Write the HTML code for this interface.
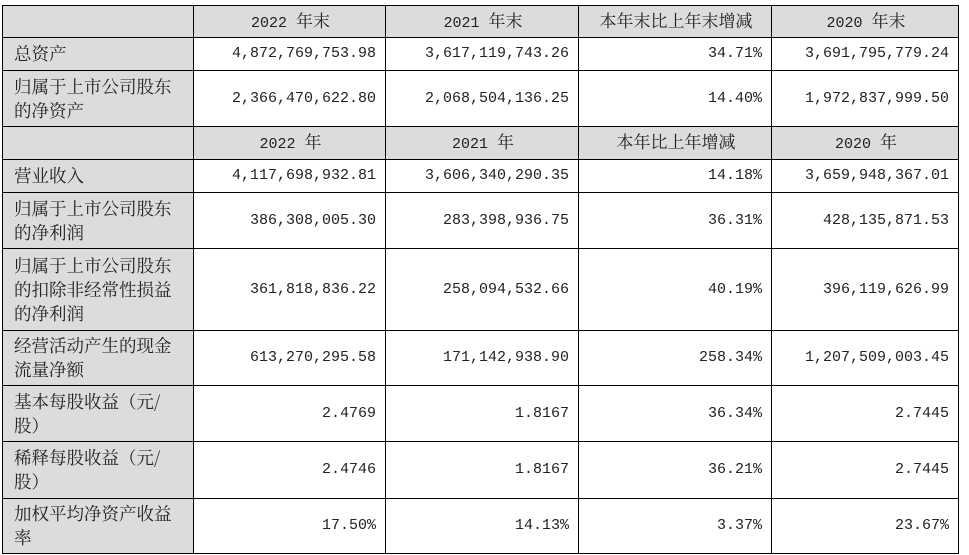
<!DOCTYPE html>
<html><head><meta charset="utf-8"><style>
body{margin:0;background:#fff;width:969px;height:555px;overflow:hidden}
table{position:absolute;left:2px;top:5px;border-collapse:collapse;table-layout:fixed;font-family:"Liberation Mono","Noto Serif CJK SC",serif;font-size:15px;color:#222}
td{border:1px solid #000;padding:0 9px 0 11px;line-height:24px;text-align:right;background:#fff;white-space:nowrap}
td.l{text-align:left;background:#dcdcdc;font-family:"Noto Serif CJK SC",serif;font-size:17.5px}
tr.h td{background:#dcdcdc;text-align:center}
.c{font-family:"Noto Serif CJK SC",serif;font-size:17px}
</style></head><body>
<table>
<colgroup><col style="width:191px"><col style="width:192px"><col style="width:193px"><col style="width:193px"><col style="width:187px"></colgroup>
<tr class="h" style="height:32px"><td></td><td>2022 <span class="c">年末</span></td><td>2021 <span class="c">年末</span></td><td><span class="c">本年末比上年末增减</span></td><td>2020 <span class="c">年末</span></td></tr>
<tr style="height:33px"><td class="l">总资产</td><td>4,872,769,753.98</td><td>3,617,119,743.26</td><td>34.71%</td><td>3,691,795,779.24</td></tr>
<tr style="height:56px"><td class="l">归属于上市公司股东<br>的净资产</td><td>2,366,470,622.80</td><td>2,068,504,136.25</td><td>14.40%</td><td>1,972,837,999.50</td></tr>
<tr class="h" style="height:33px"><td></td><td>2022 <span class="c">年</span></td><td>2021 <span class="c">年</span></td><td><span class="c">本年比上年增减</span></td><td>2020 <span class="c">年</span></td></tr>
<tr style="height:33px"><td class="l">营业收入</td><td>4,117,698,932.81</td><td>3,606,340,290.35</td><td>14.18%</td><td>3,659,948,367.01</td></tr>
<tr style="height:56px"><td class="l">归属于上市公司股东<br>的净利润</td><td>386,308,005.30</td><td>283,398,936.75</td><td>36.31%</td><td>428,135,871.53</td></tr>
<tr style="height:82px"><td class="l">归属于上市公司股东<br>的扣除非经常性损益<br>的净利润</td><td>361,818,836.22</td><td>258,094,532.66</td><td>40.19%</td><td>396,119,626.99</td></tr>
<tr style="height:55px"><td class="l">经营活动产生的现金<br>流量净额</td><td>613,270,295.58</td><td>171,142,938.90</td><td>258.34%</td><td>1,207,509,003.45</td></tr>
<tr style="height:56px"><td class="l">基本每股收益（元/<br>股）</td><td>2.4769</td><td>1.8167</td><td>36.34%</td><td>2.7445</td></tr>
<tr style="height:57px"><td class="l">稀释每股收益（元/<br>股）</td><td>2.4746</td><td>1.8167</td><td>36.21%</td><td>2.7445</td></tr>
<tr style="height:55px"><td class="l">加权平均净资产收益<br>率</td><td>17.50%</td><td>14.13%</td><td>3.37%</td><td>23.67%</td></tr>
</table>
</body></html>
